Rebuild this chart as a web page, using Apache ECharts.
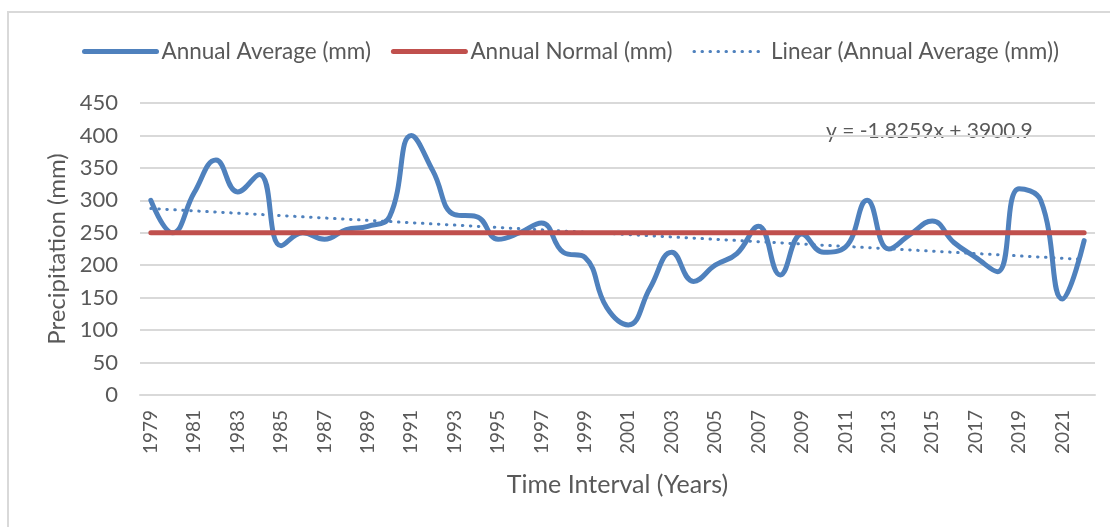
<!DOCTYPE html>
<html>
<head>
<meta charset="utf-8">
<script src="https://cdn.jsdelivr.net/npm/echarts@6/dist/echarts.min.js"></script>
<style>
  html, body { margin: 0; padding: 0; background: #fff; overflow: hidden; }
  #frame { position: absolute; left: 7px; top: 11px; width: 1120px; height: 540px; border: 2px solid #d9d9d9; box-sizing: border-box; }
  #chart { position: absolute; left: 0; top: 0; width: 1110px; height: 527px; }
</style>
</head>
<body>
<div id="frame"></div>
<div id="chart"></div>
<script>
// years on the x axis
const years = [
  '1979','1980','1981','1982','1983','1984','1985','1986','1987','1988',
  '1989','1990','1991','1992','1993','1994','1995','1996','1997','1998',
  '1999','2000','2001','2002','2003','2004','2005','2006','2007','2008',
  '2009','2010','2011','2012','2013','2014','2015','2016','2017','2018',
  '2019','2020','2021','2022'
];
// annual average precipitation (mm)
const annualAverage = [
  300, 250, 312, 362, 313, 340, 230, 250, 240, 255,
  260, 275, 400, 345, 278, 275, 240, 250, 265, 220,
  212, 135, 108, 165, 220, 175, 200, 218, 260, 185,
  248, 220, 228, 300, 225, 248, 268, 235, 212, 190,
  318, 300, 148, 238
];
// annual normal (mm)
const annualNormal = [
  250, 250, 250, 250, 250, 250, 250, 250, 250, 250,
  250, 250, 250, 250, 250, 250, 250, 250, 250, 250,
  250, 250, 250, 250, 250, 250, 250, 250, 250, 250,
  250, 250, 250, 250, 250, 250, 250, 250, 250, 250,
  250, 250, 250, 250
];
// trend line values at 1979 and 2022
const trendEnds = [287.4, 208.9];
const trendLabel = 'y = -1.8259x + 3900.9';
const yTicks = [0, 450, 50]; // min, max, step

const last = years.length - 1;
const trendData = years.map((y, i) => i === 0 ? trendEnds[0] : (i === last ? trendEnds[1] : null));

const FONT = 'Lato';
const GREY = '#595959';

const chart = echarts.init(document.getElementById('chart'));
const option = {
  animation: false,
  textStyle: { fontFamily: FONT },
  grid: { left: 140, right: 15, top: 103, bottom: 132 },
  legend: {
    top: 40,
    left: 82,
    padding: 0,
    itemWidth: 72,
    itemHeight: 20,
    itemGap: 20,
    itemStyle: { opacity: 0 },
    textStyle: { color: GREY, fontSize: 22.5, fontFamily: FONT },
    data: [
      { name: 'Annual Average (mm)', lineStyle: { width: 5 } },
      { name: 'Annual Normal (mm)', lineStyle: { width: 5 } },
      { name: 'Linear (Annual Average (mm))', lineStyle: { width: 3 } }
    ]
  },
  xAxis: {
    type: 'category',
    data: years,
    boundaryGap: true,
    name: 'Time Interval (Years)',
    nameLocation: 'middle',
    nameGap: 77,
    nameTextStyle: { color: GREY, fontSize: 25, fontFamily: FONT },
    axisLine: { lineStyle: { color: '#d9d9d9', width: 2 } },
    axisTick: { show: false },
    axisLabel: { interval: 1, rotate: 90, color: GREY, fontSize: 19, margin: 15, fontFamily: FONT }
  },
  yAxis: {
    type: 'value',
    min: yTicks[0],
    max: yTicks[1],
    interval: yTicks[2],
    name: 'Precipitation (mm)',
    nameLocation: 'middle',
    nameGap: 66,
    nameTextStyle: { color: GREY, fontSize: 24, fontFamily: FONT },
    axisLine: { show: false },
    axisTick: { show: false },
    axisLabel: { color: GREY, fontSize: 22, margin: 22, fontFamily: FONT },
    splitLine: { lineStyle: { color: '#d9d9d9', width: 2 } }
  },
  series: [
    {
      name: 'Annual Average (mm)',
      type: 'line',
      data: annualAverage,
      smooth: 0.45,
      symbol: 'none',
      z: 3,
      lineStyle: { color: '#4f81bd', width: 5, cap: 'round' },
      itemStyle: { color: '#4f81bd' }
    },
    {
      name: 'Annual Normal (mm)',
      type: 'line',
      data: annualNormal,
      symbol: 'none',
      z: 4,
      lineStyle: { color: '#c0504d', width: 5, cap: 'round' },
      itemStyle: { color: '#c0504d' }
    },
    {
      name: 'Linear (Annual Average (mm))',
      type: 'line',
      data: trendData,
      connectNulls: true,
      symbol: 'none',
      z: 2,
      lineStyle: { color: '#4f81bd', width: 3, type: [0.5, 7.5], cap: 'round' },
      itemStyle: { color: '#4f81bd' }
    }
  ],
  graphic: [
    {
      type: 'text',
      left: 826,
      top: 121,
      style: { text: trendLabel, fill: GREY, font: '21px ' + FONT }
    }
  ]
};
chart.setOption(option);
</script>
</body>
</html>
